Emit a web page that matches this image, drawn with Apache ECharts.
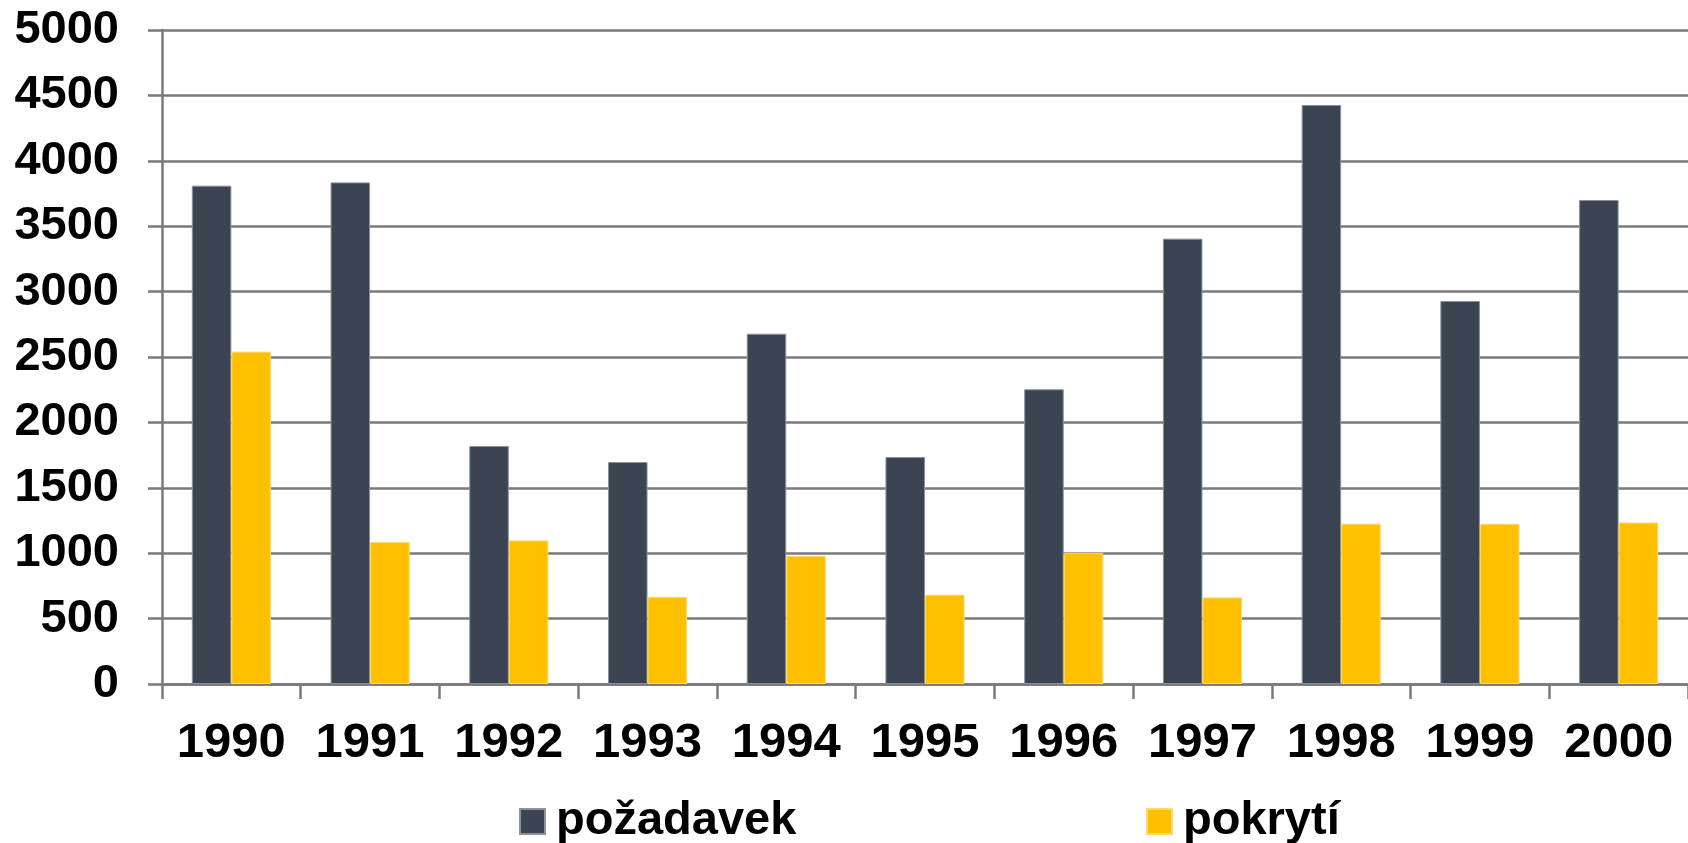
<!DOCTYPE html>
<html>
<head>
<meta charset="utf-8">
<script src="https://cdn.jsdelivr.net/npm/echarts@6/dist/echarts.min.js"></script>
<style>
  html, body { margin: 0; padding: 0; background: #fff; }
  #chart { width: 1688px; height: 843px; }
</style>
</head>
<body>
<div id="chart"></div>
<script>
// data
const years = ["1990", "1991", "1992", "1993", "1994", "1995", "1996", "1997", "1998", "1999", "2000"];
const pozadavek = [3810, 3835, 1820, 1697, 2678, 1735, 2253, 3405, 4427, 2928, 3700];
const pokryti = [2541, 1086, 1098, 666, 979, 683, 1003, 662, 1225, 1225, 1234];
const yTicks = { min: 0, max: 5000, interval: 500 };

const font = '"Liberation Sans", Arial, sans-serif';
const gridColor = "#7a7a7a";

let myChart = echarts.init(document.getElementById("chart"));
let options = {
    animation: false,
    legend: [
        {
            data: ["požadavek"],
            left: 514,
            top: 793,
            icon: "rect",
            itemWidth: 25,
            itemHeight: 25,
            textStyle: { color: "#000", fontSize: 47, fontWeight: "bold", fontFamily: font, padding: [0, 0, 0, 6] },
        },
        {
            data: ["pokrytí"],
            left: 1141,
            top: 793,
            icon: "rect",
            itemWidth: 25,
            itemHeight: 25,
            textStyle: { color: "#000", fontSize: 47, fontWeight: "bold", fontFamily: font, padding: [0, 0, 0, 6] },
        },
    ],
    grid: {
        left: 162,
        right: -3,
        top: 30,
        bottom: 159,
        containLabel: false,
    },
    xAxis: {
        type: "category",
        data: years,
        axisLine: { lineStyle: { color: gridColor, width: 2.5 } },
        axisTick: { show: true, length: 15, interval: 0, lineStyle: { color: gridColor, width: 2.5 } },
        axisLabel: {
            interval: 0,
            color: "#000",
            fontSize: 49,
            fontWeight: "bold",
            fontFamily: font,
            margin: 35,
        },
    },
    yAxis: {
        type: "value",
        min: yTicks.min,
        max: yTicks.max,
        interval: yTicks.interval,
        axisLine: { show: true, lineStyle: { color: gridColor, width: 2.5 } },
        axisTick: { show: true, length: 14, lineStyle: { color: gridColor, width: 2.5 } },
        splitLine: { show: true, lineStyle: { color: gridColor, width: 2.5 } },
        axisLabel: {
            formatter: (v) => String(v),
            color: "#000",
            fontSize: 47,
            fontWeight: "bold",
            fontFamily: font,
            margin: 43,
        },
    },
    series: [
        {
            name: "požadavek",
            type: "bar",
            data: pozadavek,
            barGap: "0%",
            barCategoryGap: "43%",
            itemStyle: { color: "#3b4453", borderColor: "#8c929c", borderWidth: 1 },
        },
        {
            name: "pokrytí",
            type: "bar",
            data: pokryti,
            itemStyle: { color: "#ffc000", borderColor: "#ffd966", borderWidth: 1 },
        },
    ],
};
myChart.setOption(options);
</script>
</body>
</html>
